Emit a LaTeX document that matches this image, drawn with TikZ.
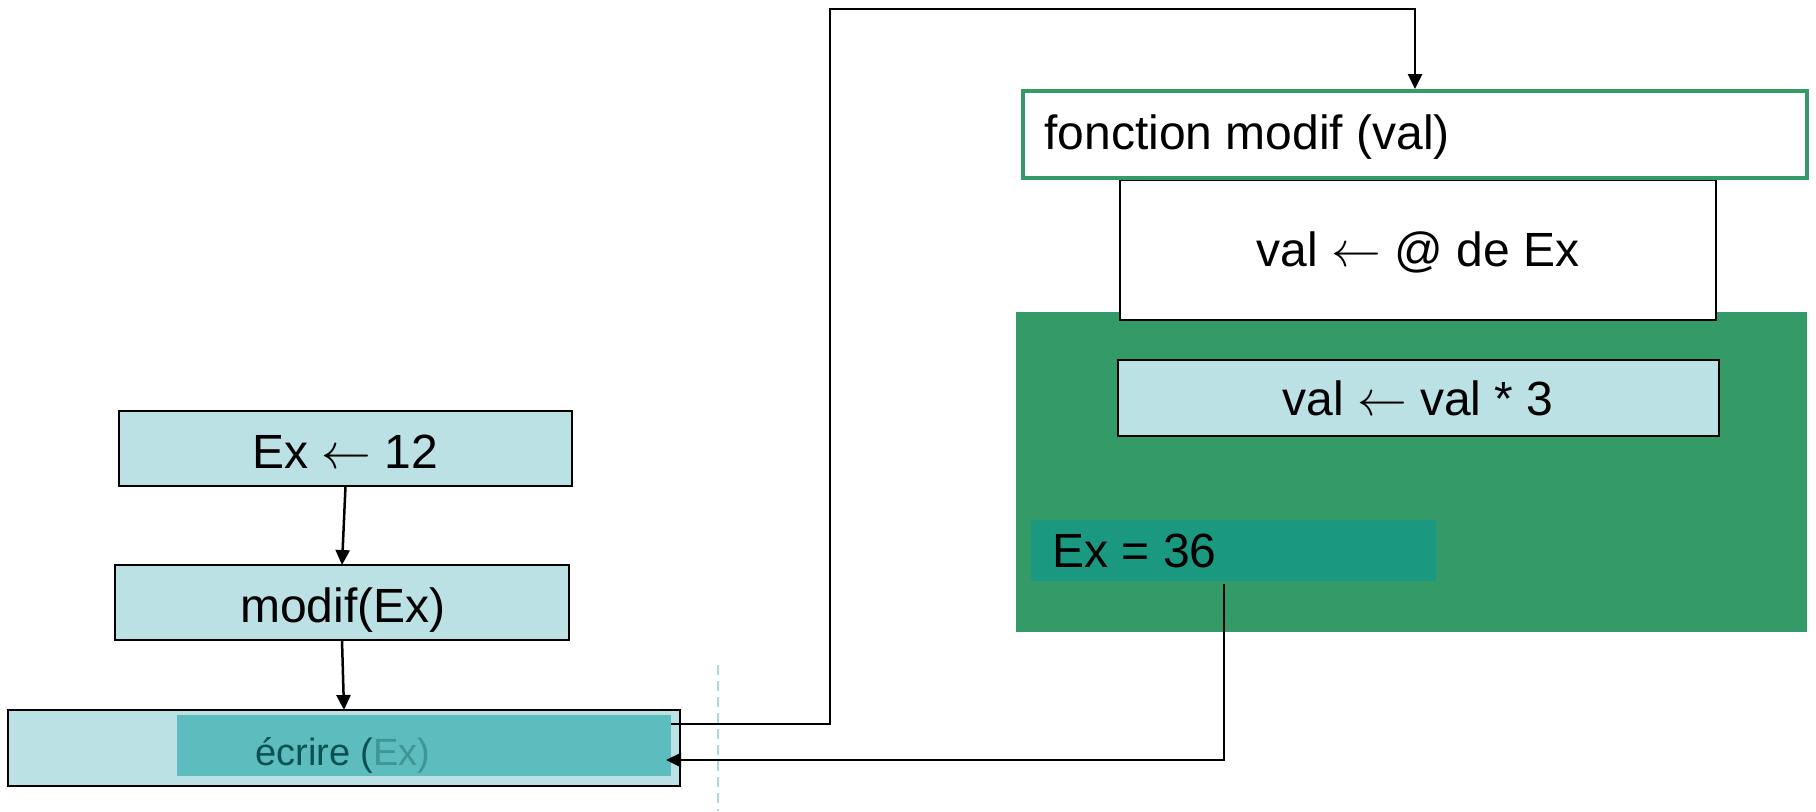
\documentclass[tikz,border=0pt]{standalone}
\usepackage{fontspec}
\setmainfont{Liberation Sans}
\usetikzlibrary{arrows.meta}

\definecolor{boxblue}{RGB}{187,225,228}
\definecolor{tealin}{RGB}{93,188,190}
\definecolor{fgreen}{RGB}{52,154,104}
\definecolor{exteal}{RGB}{26,152,128}
\definecolor{darkteal}{RGB}{10,82,82}
\definecolor{softteal}{RGB}{62,150,148}
\definecolor{dashblue}{RGB}{170,215,225}

\begin{document}
\begin{tikzpicture}[x=0.5pt,y=-0.5pt,
  box/.style={draw=black,line width=1.25pt,fill=boxblue,inner sep=0pt,outer sep=0pt},
  plain/.style={inner sep=0pt,outer sep=0pt},
  conn/.style={draw=black,line width=1.25pt,-{Triangle[length=7.5pt,width=7pt]}},
  lbl/.style={anchor=base,inner sep=0pt,font=\fontsize{24pt}{28pt}\selectfont},
  lblsmall/.style={anchor=base,inner sep=0pt,font=\fontsize{19pt}{23pt}\selectfont}]

\useasboundingbox (0,0) rectangle (1816,811);

% separator
\draw[dashblue,line width=1pt,dash pattern=on 5pt off 3pt] (718,665) -- (718,811);

% main program
\node[box,minimum width=226.5pt,minimum height=37.5pt] (ex12) at (345.5,448.5) {};
\node[box,minimum width=227pt,minimum height=37.5pt] (modif) at (342,602.5) {};
\node[box,minimum width=336pt,minimum height=38pt] (ecrire) at (344,748) {};
\node[plain,fill=tealin,minimum width=247pt,minimum height=30.5pt] (ecin) at (424,745.5) {};

\node[lbl] (tex12) at (345,468) {Ex $\leftarrow$ 12};
\node[lbl] (tmodif) at (343,622) {modif(Ex)};
\node[lblsmall] (tecrire) at (343,765) {\textcolor{darkteal}{écrire (}\textcolor{softteal}{Ex)}};

% function body
\node[plain,fill=fgreen,minimum width=395.5pt,minimum height=160pt] (body) at (1411.5,472) {};
\node[draw=black,line width=1.25pt,fill=white,plain,minimum width=298pt,minimum height=70pt] (addr) at (1418,250) {};
\node[draw=fgreen,line width=2pt,fill=white,inner sep=0pt,minimum width=392pt,minimum height=43.5pt] (fonc) at (1415,134.5) {};
\node[box,minimum width=300.5pt,minimum height=38pt] (mult) at (1418.5,398) {};
\node[plain,fill=exteal,minimum width=202.5pt,minimum height=30.5pt] (ex36) at (1233.5,550.5) {};

\node[lbl,anchor=base west] (tfonc) at (1044,149) {fonction modif (val)};
\node[lbl] (taddr) at (1418,266) {val $\leftarrow$ @ de Ex};
\node[lbl] (tmult) at (1418,415) {val $\leftarrow$ val * 3};
\node[lbl,anchor=base west] (tex36) at (1052,567) {Ex = 36};

% flow
\draw[conn] (ex12.south) -- (modif.north);
\draw[conn] (modif.south) -- (ecrire.north);
\draw[conn] ([yshift=10.75pt]ecin.east) -| (830,9) -| (fonc.north);
\draw[conn] ([xshift=-4.75pt,yshift=-1.5pt]ex36.south) |- ([xshift=-2.5pt,yshift=-7.25pt]ecin.east);

\end{tikzpicture}
\end{document}
